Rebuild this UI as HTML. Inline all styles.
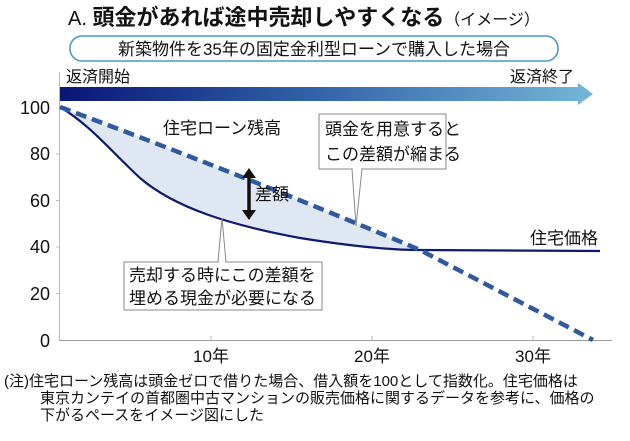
<!DOCTYPE html>
<html><head><meta charset="utf-8"><style>
body{margin:0;background:#fff;}
svg text{font-family:"Liberation Sans","Noto Sans CJK JP",sans-serif;fill:#111;}
</style></head><body>
<svg width="630" height="436" viewBox="0 0 630 436" xmlns="http://www.w3.org/2000/svg">
<defs>
<linearGradient id="g" x1="0" x2="1" y1="0" y2="0">
<stop offset="0" stop-color="#0a1577"/><stop offset="0.45" stop-color="#2e5fa6"/><stop offset="1" stop-color="#74b6d8"/>
</linearGradient>
</defs>
<text x="68" y="25" font-size="22"><tspan font-size="20">A. </tspan><tspan font-weight="bold">頭金があれば途中売却しやすくなる</tspan><tspan font-size="16">（イメージ）</tspan></text>
<rect x="70" y="36" width="488" height="25" rx="12" fill="#fff" stroke="#4a9ac8" stroke-width="1.6"/>
<text x="314" y="55" font-size="17" text-anchor="middle">新築物件を35年の固定金利型ローンで購入した場合</text>
<text x="66" y="82" font-size="16">返済開始</text>
<text x="574" y="82" font-size="16" text-anchor="end">返済終了</text>
<path d="M60 87 L578 87 L578 83 L593 94 L578 105 L578 101 L60 101 Z" fill="url(#g)"/>
<line x1="59.5" y1="72" x2="59.5" y2="341" stroke="#bbb" stroke-width="1"/>
<line x1="59" y1="340.5" x2="612" y2="340.5" stroke="#999" stroke-width="1"/>
<g stroke="#bbb"><line x1="56" y1="154" x2="60" y2="154"/><line x1="56" y1="200.5" x2="60" y2="200.5"/><line x1="56" y1="247" x2="60" y2="247"/><line x1="56" y1="293.5" x2="60" y2="293.5"/>
<line x1="211" y1="336" x2="211" y2="341"/><line x1="372" y1="336" x2="372" y2="341"/><line x1="533" y1="336" x2="533" y2="341"/></g>
<g font-size="18" text-anchor="end"><text x="50" y="114">100</text><text x="50" y="160">80</text><text x="50" y="207">60</text><text x="50" y="253">40</text><text x="50" y="300">20</text><text x="50" y="347">0</text></g>
<g font-size="17" text-anchor="middle"><text x="211" y="362">10年</text><text x="372" y="362">20年</text><text x="533" y="362">30年</text></g>
<path d="M60 107 C90 125 110 150 140 178 C175 208 230 225 300 238 C350 246 390 250 420 250 Q250 178 60 107 Z" fill="#dfe8f2"/>
<path d="M60 107 C90 125 110 150 140 178 C175 208 230 225 300 238 C350 246 390 250 420 250 L600 251" fill="none" stroke="#0d1a70" stroke-width="2.2"/>
<path d="M60 107 Q250 178 420 250 L593 340" fill="none" stroke="#2f5aa0" stroke-width="4.5" stroke-dasharray="11,6"/>
<text x="163" y="134" font-size="17">住宅ローン残高</text>
<text x="598" y="244" font-size="17" text-anchor="end">住宅価格</text>
<rect x="319" y="114" width="127" height="55" fill="#fff" stroke="#888"/>
<text x="325" y="135" font-size="17">頭金を用意すると</text><text x="325" y="160" font-size="17">この差額が縮まる</text>
<path d="M352 169 L356 226 L362 169" fill="#fff" stroke="#888"/>
<line x1="353" y1="169.5" x2="361" y2="169.5" stroke="#fff" stroke-width="2"/>
<rect x="124" y="262" width="198" height="48" fill="#fff" stroke="#888"/>
<text x="129" y="281" font-size="17">売却する時にこの差額を</text><text x="129" y="304" font-size="17">埋める現金が必要になる</text>
<path d="M218 262 L222 218 L226 262" fill="#fff" stroke="#888"/>
<line x1="219" y1="261.5" x2="225" y2="261.5" stroke="#fff" stroke-width="2"/>
<line x1="249" y1="176" x2="249" y2="212" stroke="#111" stroke-width="3.5"/>
<path d="M242 178 L249 168 L256 178 Z M242 210 L249 220 L256 210 Z" fill="#111"/>
<text x="255" y="200" font-size="17">差額</text>
<g font-size="15"><text x="4" y="386">(注)住宅ローン残高は頭金ゼロで借りた場合、借入額を100として指数化。住宅価格は</text>
<text x="40" y="403">東京カンテイの首都圏中古マンションの販売価格に関するデータを参考に、価格の</text>
<text x="40" y="420">下がるペースをイメージ図にした</text></g>
</svg>
</body></html>
